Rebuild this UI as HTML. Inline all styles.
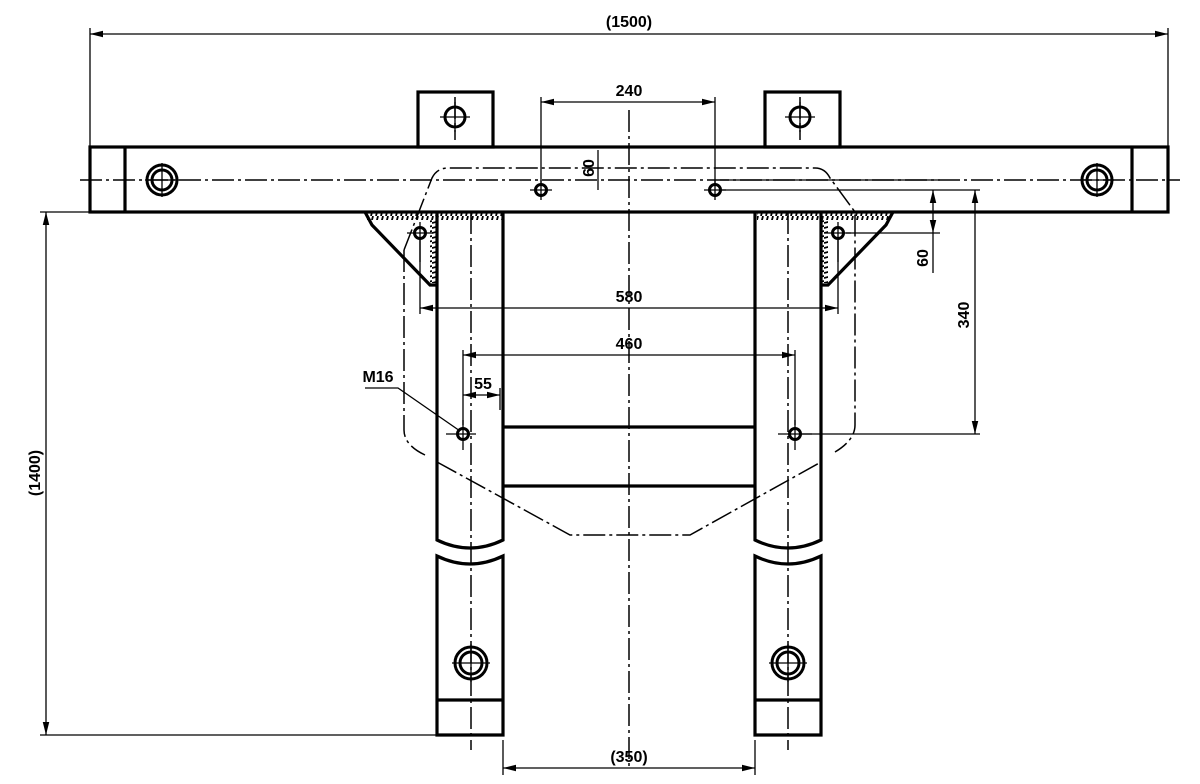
<!DOCTYPE html>
<html><head><meta charset="utf-8"><style>
html,body{margin:0;padding:0;background:#fff;}
svg{display:block;}
text{font-family:"Liberation Sans",sans-serif;font-size:16px;font-weight:bold;fill:#000;}
</style></head><body>
<svg width="1200" height="784" viewBox="0 0 1200 784" xmlns="http://www.w3.org/2000/svg">
<defs>
<marker id="a" viewBox="0 0 10 6" refX="10" refY="3" markerWidth="10" markerHeight="6" orient="auto-start-reverse"><path d="M0,0.5 L10,3 L0,5.5 z" fill="#000"/></marker>
<pattern id="h" width="5" height="8" patternUnits="userSpaceOnUse"><line x1="3" y1="0" x2="1" y2="8" stroke="#000" stroke-width="1.8"/></pattern>
<pattern id="hv" width="8" height="5" patternUnits="userSpaceOnUse"><line x1="0" y1="3" x2="8" y2="1" stroke="#000" stroke-width="1.8"/></pattern>
</defs>
<g fill="none" stroke="#000">
<g stroke-width="1.5" stroke-dasharray="22,4,3,4">
<line x1="629" y1="110" x2="629" y2="770"/>
<line x1="80" y1="180" x2="1180" y2="180"/>
<line x1="471" y1="212" x2="471" y2="750"/>
<line x1="788" y1="212" x2="788" y2="750"/>
<line x1="455" y1="97" x2="455" y2="140"/>
<line x1="800" y1="97" x2="800" y2="140"/>
<path d="M404,250 L404,430 Q404,445 425,455"/>
<path d="M404,250 L432,178 Q437,168 448,168 L815,168 Q825,168 830,178 L855,212 L855,425 Q855,440 835,452"/>
<path d="M437,462 L570,535 L690,535 L821,462"/>
</g>
<g stroke-width="3.2">
<rect x="90" y="147" width="1078" height="65"/>
<line x1="125" y1="147" x2="125" y2="212"/>
<line x1="1132" y1="147" x2="1132" y2="212"/>
<rect x="418" y="92" width="75" height="55"/>
<rect x="765" y="92" width="75" height="55"/>
<path d="M437,212 L437,540 Q470,556 503,540 L503,212"/>
<path d="M437,735 L437,556 Q470,572 503,556 L503,735 Z"/>
<line x1="437" y1="700" x2="503" y2="700"/>
<path d="M755,212 L755,540 Q788,556 821,540 L821,212"/>
<path d="M755,735 L755,556 Q788,572 821,556 L821,735 Z"/>
<line x1="755" y1="700" x2="821" y2="700"/>
<line x1="503" y1="427" x2="755" y2="427"/>
<line x1="503" y1="486" x2="755" y2="486"/>
<path d="M365,212 L372,225 L430,285 L437,285"/>
<path d="M893,212 L886,225 L828,285 L821,285"/>
</g>
<rect x="367" y="213" width="136" height="7" fill="url(#h)" stroke="none"/>
<rect x="757" y="213" width="134" height="7" fill="url(#h)" stroke="none"/>
<rect x="430" y="220" width="7" height="63" fill="url(#hv)" stroke="none"/>
<rect x="821" y="220" width="7" height="63" fill="url(#hv)" stroke="none"/>
<g stroke-width="3">
<circle cx="162" cy="180" r="15"/><circle cx="162" cy="180" r="10"/>
<circle cx="1097" cy="180" r="15"/><circle cx="1097" cy="180" r="10"/>
<circle cx="471" cy="663" r="16"/><circle cx="471" cy="663" r="11"/>
<circle cx="788" cy="663" r="16"/><circle cx="788" cy="663" r="11"/>
<circle cx="455" cy="117" r="10"/><circle cx="800" cy="117" r="10"/>
<circle cx="541" cy="190" r="5.5"/><circle cx="715" cy="190" r="5.5"/>
<circle cx="420" cy="233" r="5.5"/><circle cx="838" cy="233" r="5.5"/>
<circle cx="463" cy="434" r="5.5"/><circle cx="795" cy="434" r="5.5"/>
</g>
<g stroke-width="1.3">
<path d="M145,180h34M162,163v34M1080,180h34M1097,163v34M452,663h38M471,644v38M769,663h38M788,644v38M440,117h30M455,102v30M785,117h30M800,102v30"/>
<path d="M530,190h22M541,180v20M704,190h22M715,180v20M407,233h26M420,222v40M825,233h26M838,222v40M446,434h30M463,420v30M778,434h34M795,420v30"/>
<path d="M90,147V28M1168,147V28M541,185V97M715,185V97M420,240V314M838,240V314M463,425V350M795,425V350M500,410V388"/>
<path d="M720,190H980M846,233H940M800,434H980M437,735H40M503,212H40M503,740V775M755,740V775M720,180H940"/>
<line x1="90" y1="34" x2="1168" y2="34" marker-start="url(#a)" marker-end="url(#a)"/>
<line x1="541" y1="102" x2="715" y2="102" marker-start="url(#a)" marker-end="url(#a)"/>
<line x1="420" y1="308" x2="838" y2="308" marker-start="url(#a)" marker-end="url(#a)"/>
<line x1="463" y1="355" x2="795" y2="355" marker-start="url(#a)" marker-end="url(#a)"/>
<line x1="463" y1="395" x2="500" y2="395" marker-start="url(#a)" marker-end="url(#a)"/>
<line x1="503" y1="768" x2="755" y2="768" marker-start="url(#a)" marker-end="url(#a)"/>
<line x1="46" y1="212" x2="46" y2="735" marker-start="url(#a)" marker-end="url(#a)"/>
<line x1="975" y1="190" x2="975" y2="434" marker-start="url(#a)" marker-end="url(#a)"/>
<line x1="933" y1="190" x2="933" y2="233" marker-start="url(#a)" marker-end="url(#a)"/>
<line x1="933" y1="233" x2="933" y2="273"/>
<line x1="598" y1="150" x2="598" y2="190"/>
<path d="M365,388H398L460,431"/>
</g>
</g>
<text x="629" y="27" text-anchor="middle">(1500)</text>
<text x="629" y="96" text-anchor="middle">240</text>
<text x="629" y="302" text-anchor="middle">580</text>
<text x="629" y="349" text-anchor="middle">460</text>
<text x="483" y="389" text-anchor="middle">55</text>
<text x="378" y="382" text-anchor="middle">M16</text>
<text x="629" y="762" text-anchor="middle">(350)</text>
<text transform="translate(40,473) rotate(-90)" text-anchor="middle">(1400)</text>
<text transform="translate(969,315) rotate(-90)" text-anchor="middle">340</text>
<text transform="translate(928,258) rotate(-90)" text-anchor="middle">60</text>
<text transform="translate(594,168) rotate(-90)" text-anchor="middle">60</text>
</svg>
</body></html>
